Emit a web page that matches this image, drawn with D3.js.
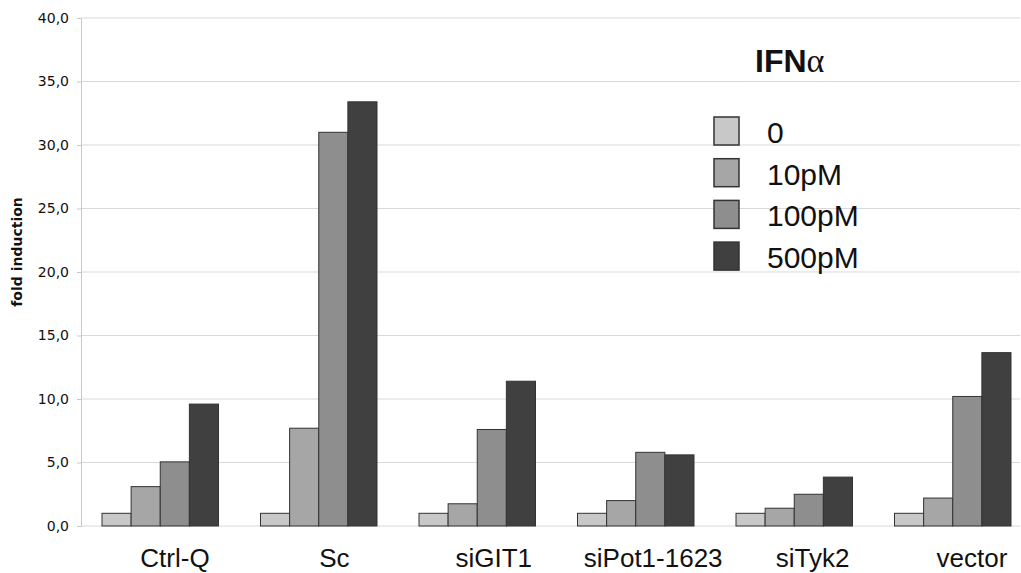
<!DOCTYPE html>
<html><head><meta charset="utf-8">
<script src="https://cdn.jsdelivr.net/npm/d3@7"></script>
<style>body{margin:0;background:#fff}svg{display:block}</style>
</head><body>
<svg id="c" width="1021" height="573"></svg>
<script>
const categories = ["Ctrl-Q","Sc","siGIT1","siPot1-1623","siTyk2","vector"];
const seriesNames = ["0","10pM","100pM","500pM"];
const s0 = [1.0,1.0,1.0,1.0,1.0,1.0];
const s10 = [3.1,7.7,1.75,2.0,1.4,2.2];
const s100 = [5.05,31.0,7.6,5.8,2.5,10.2];
const s500 = [9.6,33.4,11.4,5.6,3.85,13.65];
const yTicks = [0,5,10,15,20,25,30,35,40];
const colors = ["#c8c8c8","#a6a6a6","#8e8e8e","#404040"];
const series = [s0,s10,s100,s500];

(function(){
const svg = d3.select("#c");
const pL = 81, pR = 1032, pT = 18, pB = 526;
const y = d3.scaleLinear().domain([0,40]).range([pB, pT]);
const x0 = d3.scaleBand().domain(categories).range([pL, pR]).paddingInner(0.265).paddingOuter(0.1325);
const x1 = d3.scaleBand().domain(seriesNames).range([0, x0.bandwidth()]);
const xl = d3.scalePoint().domain(categories).range([175, 972]);

svg.append("g").selectAll("line").data(yTicks).join("line")
  .attr("x1", pL).attr("x2", 1020)
  .attr("y1", d=>y(d)).attr("y2", d=>y(d))
  .attr("stroke", "#d9d9d9").attr("stroke-width", 1);

const ya = svg.append("g").attr("transform", `translate(${pL},0)`)
  .call(d3.axisLeft(y).tickValues(yTicks).tickSize(4).tickPadding(8)
    .tickFormat(d => d.toFixed(1).replace(".", ",")));
ya.select(".domain").attr("stroke", "#c8c8c8");
ya.selectAll(".tick line").attr("stroke", "#c8c8c8");
ya.selectAll("text").attr("font-family", "DejaVu Sans, Verdana, sans-serif").attr("font-size", 14).attr("fill", "#111");

svg.append("text").attr("transform", "translate(22,252) rotate(-90)")
  .attr("text-anchor", "middle").attr("font-family", "DejaVu Sans, Verdana, sans-serif")
  .attr("font-weight", "bold").attr("font-size", 14).attr("fill", "#111").text("fold induction");

const g = svg.append("g");
categories.forEach((c, i) => {
  series.forEach((s, j) => {
    g.append("rect")
      .attr("x", x0(c) + x1(seriesNames[j]))
      .attr("y", y(s[i]))
      .attr("width", x1.bandwidth())
      .attr("height", y(0) - y(s[i]))
      .attr("fill", colors[j]).attr("stroke", "#333").attr("stroke-width", 1);
  });
});

svg.append("g").selectAll("text").data(categories).join("text")
  .attr("x", d => xl(d)).attr("y", 567)
  .attr("text-anchor", "middle").attr("font-family", "Liberation Sans, Arial, sans-serif")
  .attr("font-size", 26).attr("fill", "#111").text(d => d);

const t = svg.append("text").attr("x", 755).attr("y", 72).attr("font-family", "Liberation Sans, Arial, sans-serif")
  .attr("font-size", 32).attr("fill", "#111");
t.append("tspan").attr("font-weight", "bold").text("IFN");
t.append("tspan").attr("font-family", "Liberation Serif, Times New Roman, serif").attr("font-size", 34).text("α");

const lg = svg.append("g");
seriesNames.forEach((n, j) => {
  const ly = 117 + j * 41.7;
  lg.append("rect").attr("x", 714).attr("y", ly).attr("width", 25).attr("height", 28)
    .attr("fill", colors[j]).attr("stroke", "#333").attr("stroke-width", 1.5);
  lg.append("text").attr("x", 767).attr("y", ly + 26).attr("font-family", "Liberation Sans, Arial, sans-serif")
    .attr("font-size", 30).attr("fill", "#111").text(n);
});
})();
</script>
</body></html>
